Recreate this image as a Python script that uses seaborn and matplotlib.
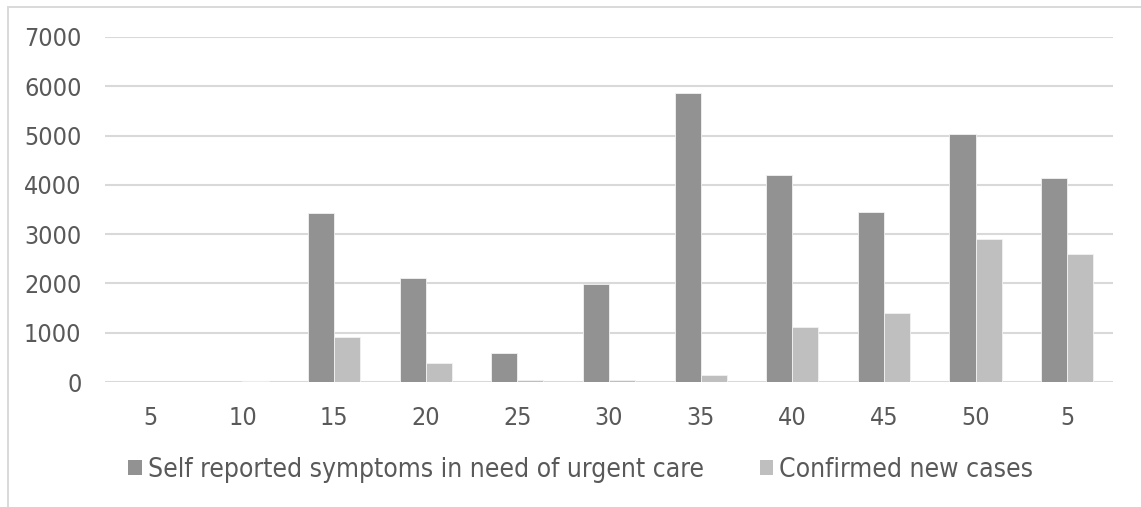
import matplotlib
matplotlib.use("Agg")
import matplotlib.pyplot as plt
from matplotlib.patches import Rectangle, Patch
import seaborn as sns
import pandas as pd

# Day labels along the x axis (the series wraps back to 5 at the end)
day_labels = ["5", "10", "15", "20", "25", "30", "35", "40", "45", "50", "5"]
self_reported = [0, 0, 3430, 2110, 595, 1980, 5870, 4210, 3445, 5035, 4130]
confirmed = [0, 20, 920, 385, 40, 40, 150, 1120, 1405, 2895, 2590]

series_names = ["Self reported symptoms in need of urgent care", "Confirmed new cases"]
series_colors = ["#929292", "#bfbfbf"]
text_color = "#595959"
grid_color = "#d9d9d9"

pos = list(range(len(day_labels)))
df = pd.DataFrame({
    "pos": pos * 2,
    "value": self_reported + confirmed,
    "series": [series_names[0]] * len(pos) + [series_names[1]] * len(pos),
})

sns.set_theme(style="white")
plt.rcParams["font.family"] = ["DejaVu Sans"]
plt.rcParams["font.stretch"] = "condensed"

W, H = 1141, 507
fig = plt.figure(figsize=(W / 100, H / 100), dpi=100)
ax = fig.add_axes([105 / W, (H - 382) / H, (1113 - 105) / W, (382 - 37) / H])

sns.barplot(data=df, x="pos", y="value", hue="series", order=pos,
            hue_order=series_names, palette=series_colors, width=0.57,
            gap=0, edgecolor="#f2f2f2", linewidth=0.6, legend=False,
            errorbar=None, ax=ax, zorder=3)

ax.set_xlim(-0.5, len(pos) - 0.5)
ax.set_ylim(0, 7000)
ax.set_yticks(range(0, 7001, 1000))
ax.set_xticks(pos)
ax.set_xticklabels(day_labels)
ax.set_xlabel("")
ax.set_ylabel("")

ax.yaxis.grid(True, color=grid_color, linewidth=1.5, zorder=0)
ax.xaxis.grid(False)
for side in ["top", "right", "left", "bottom"]:
    ax.spines[side].set_visible(False)

ax.tick_params(axis="both", length=0, labelsize=18, labelcolor=text_color)
ax.tick_params(axis="x", pad=17)
ax.tick_params(axis="y", pad=17)

# Legend below the plot
handles = [Patch(facecolor=c, edgecolor="none") for c in series_colors]
fig.legend(handles, series_names, loc="center", bbox_to_anchor=(581 / W, (H - 470) / H),
           ncol=2, frameon=False, fontsize=19, labelcolor=text_color,
           handlelength=0.5, handleheight=0.5, handletextpad=0.25,
           columnspacing=2.1)

# Chart-area border
fig.patches.append(Rectangle((8 / W, -0.1), 1.2, (H - 7) / H + 0.1,
                             transform=fig.transFigure, fill=False,
                             edgecolor=grid_color, linewidth=1.4))

fig.savefig("out.png", dpi=100, facecolor="white")
